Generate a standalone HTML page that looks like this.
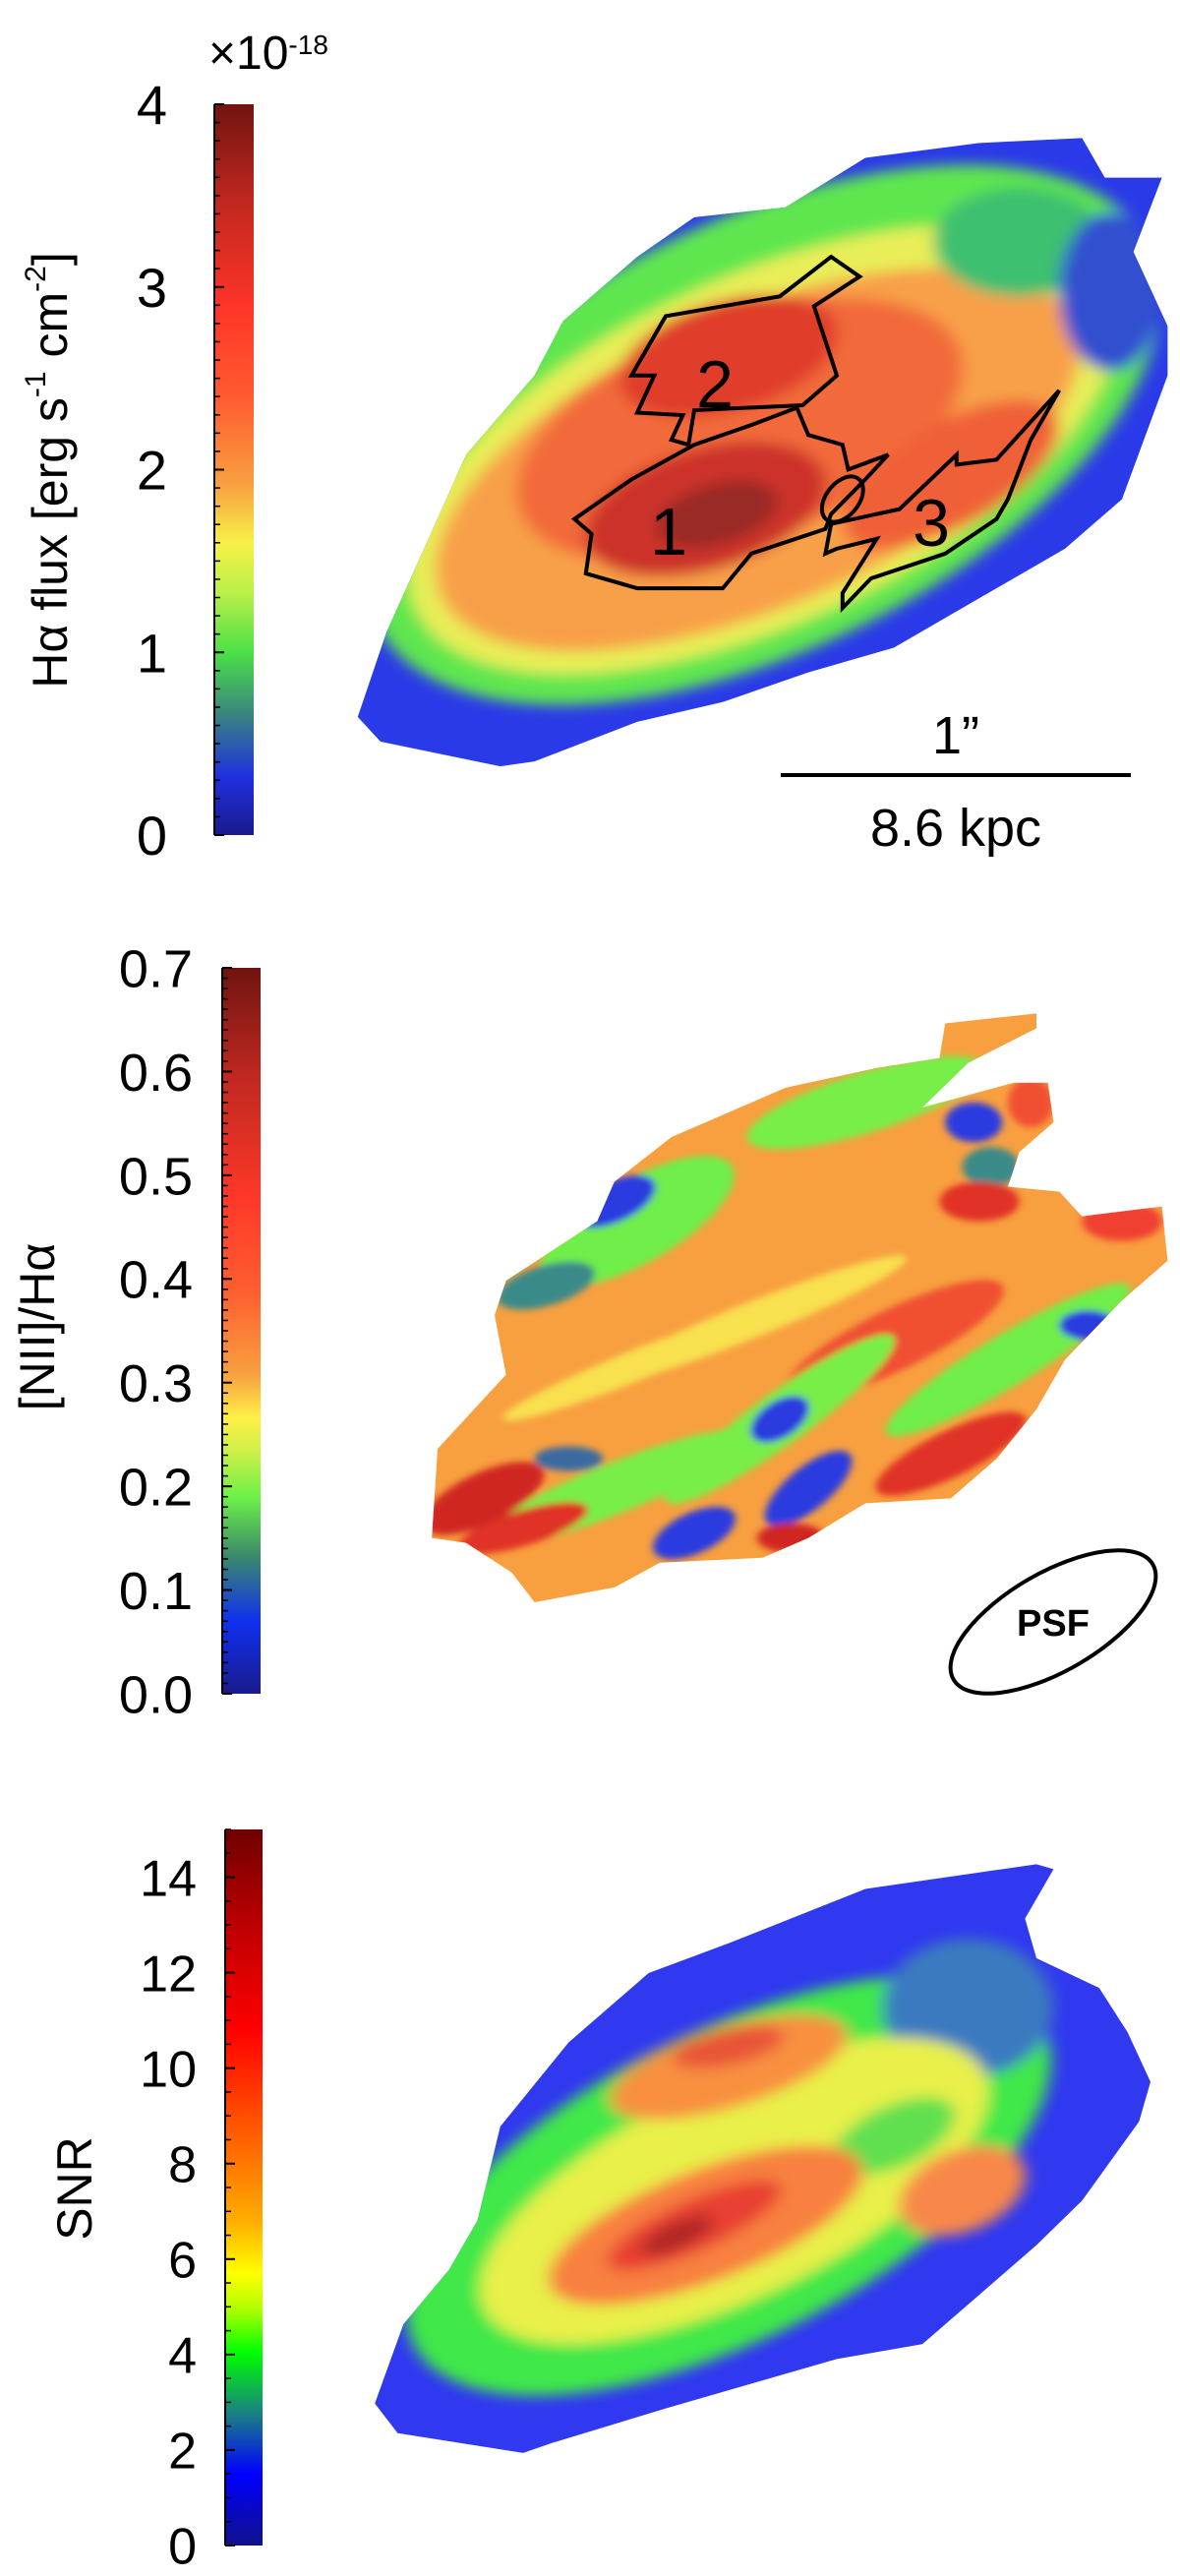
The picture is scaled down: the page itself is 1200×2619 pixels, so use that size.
<!DOCTYPE html>
<html><head><meta charset="utf-8">
<style>
html,body{margin:0;padding:0;background:#fff;}
body{width:1200px;height:2619px;position:relative;overflow:hidden;font-family:"Liberation Sans",Arial,sans-serif;}
svg{position:absolute;left:0;top:0;}
</style></head>
<body>
<svg id="fig" width="1200" height="2619" viewBox="0 0 1200 2619">
<defs>
<linearGradient id="g1" x1="0" y1="1" x2="0" y2="0">
<stop offset="0" stop-color="#1a1a8c"/><stop offset="0.08" stop-color="#2030e0"/><stop offset="0.17" stop-color="#3a8a7a"/>
<stop offset="0.25" stop-color="#4ce048"/><stop offset="0.33" stop-color="#b8f048"/><stop offset="0.4" stop-color="#f8f048"/>
<stop offset="0.48" stop-color="#f8a040"/><stop offset="0.6" stop-color="#ff5a30"/><stop offset="0.72" stop-color="#ff3528"/>
<stop offset="0.86" stop-color="#c42820"/><stop offset="1" stop-color="#721410"/></linearGradient>
<linearGradient id="g2" x1="0" y1="1" x2="0" y2="0">
<stop offset="0" stop-color="#1a1a8c"/><stop offset="0.1" stop-color="#1030f0"/><stop offset="0.19" stop-color="#3a8a6a"/>
<stop offset="0.27" stop-color="#6cf048"/><stop offset="0.33" stop-color="#c8f048"/><stop offset="0.38" stop-color="#fff048"/>
<stop offset="0.44" stop-color="#f8a040"/><stop offset="0.55" stop-color="#ff6030"/><stop offset="0.68" stop-color="#ff3828"/>
<stop offset="0.85" stop-color="#c02820"/><stop offset="1" stop-color="#701410"/></linearGradient>
<linearGradient id="g3" x1="0" y1="1" x2="0" y2="0">
<stop offset="0" stop-color="#10108a"/><stop offset="0.1" stop-color="#0000ff"/><stop offset="0.18" stop-color="#1a7a8a"/>
<stop offset="0.27" stop-color="#00ff00"/><stop offset="0.33" stop-color="#b0ff00"/><stop offset="0.38" stop-color="#ffff00"/>
<stop offset="0.45" stop-color="#ffb000"/><stop offset="0.52" stop-color="#ff8000"/><stop offset="0.62" stop-color="#ff4000"/>
<stop offset="0.72" stop-color="#ff0000"/><stop offset="0.86" stop-color="#c00000"/><stop offset="1" stop-color="#700000"/></linearGradient>
<filter id="bl" x="-20%" y="-20%" width="140%" height="140%"><feGaussianBlur stdDeviation="14"/></filter>
<filter id="bl2" x="-20%" y="-20%" width="140%" height="140%"><feGaussianBlur stdDeviation="7"/></filter>
<clipPath id="c1"><polygon transform="translate(300,80) scale(0.58,0.503)" points="110,1290 160,1120 300,760 420,600 470,490 600,360 700,280 860,260 1000,160 1200,130 1380,120 1420,200 1520,200 1470,350 1530,500 1530,600 1450,850 1350,950 1200,1050 1050,1150 900,1200 750,1260 600,1300 420,1380 360,1390 150,1340"/></clipPath>
<clipPath id="c2"><polygon transform="translate(300,960) scale(0.58,0.503)" points="240,1200 250,1020 370,870 350,750 370,680 530,560 560,480 660,390 860,290 1020,250 1130,230 1140,160 1300,140 1300,170 1180,240 1100,330 1260,280 1320,280 1330,360 1270,420 1250,490 1340,500 1380,550 1520,530 1530,640 1450,720 1350,840 1300,940 1230,1040 1150,1120 1000,1130 900,1200 820,1240 640,1250 560,1300 420,1330 380,1270 300,1210"/></clipPath>
<clipPath id="c3"><polygon transform="translate(300,1840) scale(0.58,0.503)" points="140,1200 190,1040 270,930 320,830 360,640 480,470 620,330 760,270 1000,160 1300,110 1330,120 1280,220 1300,300 1410,360 1460,450 1500,550 1480,630 1380,790 1300,880 1200,980 1100,1080 950,1110 800,1160 650,1210 450,1280 400,1300 180,1260"/></clipPath>
</defs>

<!-- ===== Map 1: Halpha flux ===== -->
<g>
<g clip-path="url(#c1)">
<rect x="300" y="100" width="900" height="760" fill="#2a3ae8"/>
<g filter="url(#bl)" transform="translate(300,80) scale(0.58,0.503)">
<ellipse cx="820" cy="720" rx="780" ry="420" transform="rotate(-32 820 720)" fill="#5ee650"/>
<ellipse cx="820" cy="750" rx="690" ry="340" transform="rotate(-30 820 750)" fill="#e8ee58"/>
<ellipse cx="810" cy="770" rx="620" ry="290" transform="rotate(-28 810 770)" fill="#f8a048"/>
<ellipse cx="1270" cy="330" rx="150" ry="110" fill="#3ec070"/>
<ellipse cx="1430" cy="430" rx="90" ry="160" fill="#3050d0"/>
<ellipse cx="780" cy="710" rx="420" ry="220" transform="rotate(-25 780 710)" fill="#f26a3a"/>
<ellipse cx="1150" cy="800" rx="220" ry="100" transform="rotate(-35 1150 800)" fill="#f06038"/>
<ellipse cx="760" cy="560" rx="200" ry="110" transform="rotate(-20 760 560)" fill="#e03c2c"/>
<ellipse cx="720" cy="870" rx="220" ry="120" transform="rotate(-20 720 870)" fill="#cc302a"/>
<ellipse cx="740" cy="880" rx="110" ry="60" transform="rotate(-20 740 880)" fill="#9a2a28"/>
</g>
</g>
<g transform="translate(300,80) scale(0.58,0.503)" fill="none" stroke="#000" stroke-width="4" vector-effect="non-scaling-stroke">
<polygon vector-effect="non-scaling-stroke" points="590,600 650,480 850,440 940,360 990,400 910,460 950,600 890,660 700,670 690,740 660,730 680,680 600,675 630,600"/>
<polygon vector-effect="non-scaling-stroke" points="490,890 590,810 700,740 800,700 880,665 900,720 960,740 970,790 1040,760 1000,810 940,880 930,910 800,960 750,1030 600,1030 510,1000 520,920"/>
<polygon vector-effect="non-scaling-stroke" points="930,960 940,900 1060,870 1160,760 1160,780 1230,770 1340,630 1290,730 1250,850 1230,890 1140,960 1010,1010 960,1070 960,1040 1020,930 950,950"/>
<ellipse cx="960" cy="850" rx="30" ry="50" transform="rotate(30 960 850)" vector-effect="non-scaling-stroke"/>
</g>
<text x="727" y="414" font-size="68" text-anchor="middle">2</text>
<text x="680" y="564" font-size="68" text-anchor="middle">1</text>
<text x="947" y="555" font-size="68" text-anchor="middle">3</text>
<text x="972" y="766" font-size="54" text-anchor="middle">1”</text>
<line x1="794" y1="788" x2="1150" y2="788" stroke="#000" stroke-width="4"/>
<text x="972" y="860" font-size="54" text-anchor="middle">8.6 kpc</text>
</g>

<!-- ===== Map 2: NII/Halpha ===== -->
<g>
<g clip-path="url(#c2)">
<rect x="300" y="960" width="900" height="780" fill="#f8a040"/>
<g filter="url(#bl2)" transform="translate(300,960) scale(0.58,0.503)">
<ellipse cx="600" cy="560" rx="200" ry="80" transform="rotate(-35 600 560)" fill="#70ee48"/>
<ellipse cx="560" cy="520" rx="80" ry="40" transform="rotate(-30 560 520)" fill="#2a3ae0"/>
<ellipse cx="440" cy="690" rx="90" ry="40" transform="rotate(-20 440 690)" fill="#3a8a8a"/>
<ellipse cx="1000" cy="320" rx="220" ry="60" transform="rotate(-20 1000 320)" fill="#78ee48"/>
<ellipse cx="1190" cy="360" rx="50" ry="40" fill="#2a3ae0"/>
<ellipse cx="1220" cy="450" rx="50" ry="40" fill="#3a8a8a"/>
<ellipse cx="1200" cy="520" rx="70" ry="40" fill="#e03028"/>
<ellipse cx="1290" cy="320" rx="40" ry="50" fill="#f05030"/>
<ellipse cx="1450" cy="560" rx="70" ry="40" fill="#f04030"/>
<ellipse cx="1050" cy="800" rx="220" ry="60" transform="rotate(-30 1050 800)" fill="#f05030"/>
<ellipse cx="1250" cy="840" rx="260" ry="50" transform="rotate(-35 1250 840)" fill="#70ee48"/>
<ellipse cx="1390" cy="770" rx="50" ry="30" fill="#2a3ae0"/>
<ellipse cx="850" cy="960" rx="260" ry="50" transform="rotate(-40 850 960)" fill="#78ee48"/>
<ellipse cx="850" cy="960" rx="60" ry="35" transform="rotate(-40 850 960)" fill="#2a3ae0"/>
<ellipse cx="900" cy="1100" rx="100" ry="40" transform="rotate(-45 900 1100)" fill="#2a3ae0"/>
<ellipse cx="700" cy="1190" rx="80" ry="40" transform="rotate(-30 700 1190)" fill="#2a3ae0"/>
<ellipse cx="560" cy="1100" rx="260" ry="50" transform="rotate(-25 560 1100)" fill="#78ee48"/>
<ellipse cx="480" cy="1040" rx="60" ry="25" fill="#3a6aa0"/>
<ellipse cx="330" cy="1120" rx="120" ry="50" transform="rotate(-30 330 1120)" fill="#d02820"/>
<ellipse cx="400" cy="1180" rx="120" ry="35" transform="rotate(-20 400 1180)" fill="#e03028"/>
<ellipse cx="1150" cy="1030" rx="150" ry="45" transform="rotate(-30 1150 1030)" fill="#e03028"/>
<ellipse cx="870" cy="1200" rx="60" ry="30" fill="#d02820"/>
<ellipse cx="800" cy="760" rx="300" ry="35" transform="rotate(-25 800 760)" fill="#f8e050"/>
<ellipse cx="600" cy="850" rx="260" ry="30" transform="rotate(-25 600 850)" fill="#f8e050"/>
</g>
</g>
<ellipse cx="1071" cy="1649" rx="117" ry="50" transform="rotate(-30 1071 1649)" fill="none" stroke="#000" stroke-width="4"/>
<text x="1071" y="1663" font-size="38" font-weight="bold" text-anchor="middle">PSF</text>
</g>

<!-- ===== Map 3: SNR ===== -->
<g>
<g clip-path="url(#c3)">
<rect x="300" y="1840" width="900" height="779" fill="#3038f0"/>
<g filter="url(#bl)" transform="translate(300,1840) scale(0.58,0.503)">
<ellipse cx="760" cy="760" rx="640" ry="300" transform="rotate(-32 760 760)" fill="#40e848"/>
<ellipse cx="1180" cy="400" rx="150" ry="140" fill="#3a7ac0"/>
<ellipse cx="770" cy="770" rx="500" ry="210" transform="rotate(-30 770 770)" fill="#e8f048"/>
<ellipse cx="1050" cy="660" rx="120" ry="60" transform="rotate(-30 1050 660)" fill="#60e050"/>
<ellipse cx="760" cy="520" rx="220" ry="80" transform="rotate(-20 760 520)" fill="#f89040"/>
<ellipse cx="720" cy="840" rx="300" ry="110" transform="rotate(-25 720 840)" fill="#f88040"/>
<ellipse cx="1170" cy="770" rx="120" ry="80" transform="rotate(-30 1170 770)" fill="#f88848"/>
<ellipse cx="700" cy="840" rx="170" ry="50" transform="rotate(-28 700 840)" fill="#e84030"/>
<ellipse cx="760" cy="480" rx="100" ry="35" transform="rotate(-15 760 480)" fill="#e85538"/>
<ellipse cx="670" cy="860" rx="70" ry="25" transform="rotate(-28 670 860)" fill="#b02828"/>
</g>
</g>
</g>

<g id="cbars"></g>
</svg>
<script>
// Colorbar 1: H-alpha flux
const cb1Ticks = [0, 1, 2, 3, 4];
const cb1Labels = ["0", "1", "2", "3", "4"];
const cb1Range = [0, 4];
const cb1MinorStep = 0.1;
// Colorbar 2: [NII]/Halpha
const cb2Ticks = [0.0, 0.1, 0.2, 0.3, 0.4, 0.5, 0.6, 0.7];
const cb2Labels = ["0.0", "0.1", "0.2", "0.3", "0.4", "0.5", "0.6", "0.7"];
const cb2Range = [0, 0.7];
const cb2MinorStep = 0.01;
// Colorbar 3: SNR
const cb3Ticks = [0, 2, 4, 6, 8, 10, 12, 14];
const cb3Labels = ["0", "2", "4", "6", "8", "10", "12", "14"];
const cb3Range = [0, 15];
const cb3MinorStep = 0.5;

const NS = "http://www.w3.org/2000/svg";
const root = document.getElementById("cbars");
function mk(tag, attrs, parent) {
  const e = document.createElementNS(NS, tag);
  for (const k in attrs) e.setAttribute(k, attrs[k]);
  parent.appendChild(e);
  return e;
}
function colorbar(name, grad, x0, x1, yBot, yTop, range, ticks, labels, minor, labRight, fs) {
  const g = mk("g", {}, root);
  
  
  const y = v => yBot + (v - range[0]) / (range[1] - range[0]) * (yTop - yBot);
  const r = mk("rect", {x: x0, y: yTop, width: x1 - x0, height: yBot - yTop, fill: "url(#" + grad + ")"}, g);
  
  
  mk("line", {x1: x0, y1: yTop, x2: x0, y2: yBot, stroke: "#000", "stroke-width": 2}, g);
  const n = Math.round((range[1] - range[0]) / minor);
  for (let i = 0; i <= n; i++) {
    const v = range[0] + i * minor;
    const t = mk("line", {x1: x0, y1: y(v), x2: x0 + 6, y2: y(v), stroke: "#000", "stroke-width": 1.5}, g);
    
    
  }
  ticks.forEach((v, i) => {
    const t = mk("line", {x1: x0, y1: y(v), x2: x0 + 10, y2: y(v), stroke: "#000", "stroke-width": 2}, g);
    
    
    const tx = mk("text", {x: labRight, y: y(v) + fs * 0.36, "font-size": fs, "text-anchor": "end"}, g);
    tx.textContent = labels[i];
    
    
  });
}
colorbar("halpha-colorbar", "g1", 218, 258, 849, 106, cb1Range, cb1Ticks, cb1Labels, cb1MinorStep, 170, 56);
colorbar("nii-colorbar", "g2", 226, 265, 1722, 984, cb2Range, cb2Ticks, cb2Labels, cb2MinorStep, 196, 54);
colorbar("snr-colorbar", "g3", 229, 267, 2588, 1860, cb3Range, cb3Ticks, cb3Labels, cb3MinorStep, 200, 52);

function vtext(name, cx, cy, fs, html) {
  const t = mk("text", {x: cx, y: cy, "font-size": fs, "text-anchor": "middle", transform: "rotate(-90 " + cx + " " + cy + ")", "dominant-baseline": "middle"}, root);
  t.innerHTML = html;
  
  
}
vtext("halpha-axis-title", 55, 478, 50, 'Hα  flux [erg s<tspan baseline-shift="super" font-size="30">-1</tspan> cm<tspan baseline-shift="super" font-size="30">-2</tspan>]');
vtext("nii-axis-title", 42, 1349, 50, '[NII]/Hα');
vtext("snr-axis-title", 80, 2225, 50, 'SNR');
const ex = mk("text", {x: 212, y: 70, "font-size": 48}, root);
ex.innerHTML = '×10<tspan baseline-shift="super" font-size="28">-18</tspan>';


</script>
</body></html>
